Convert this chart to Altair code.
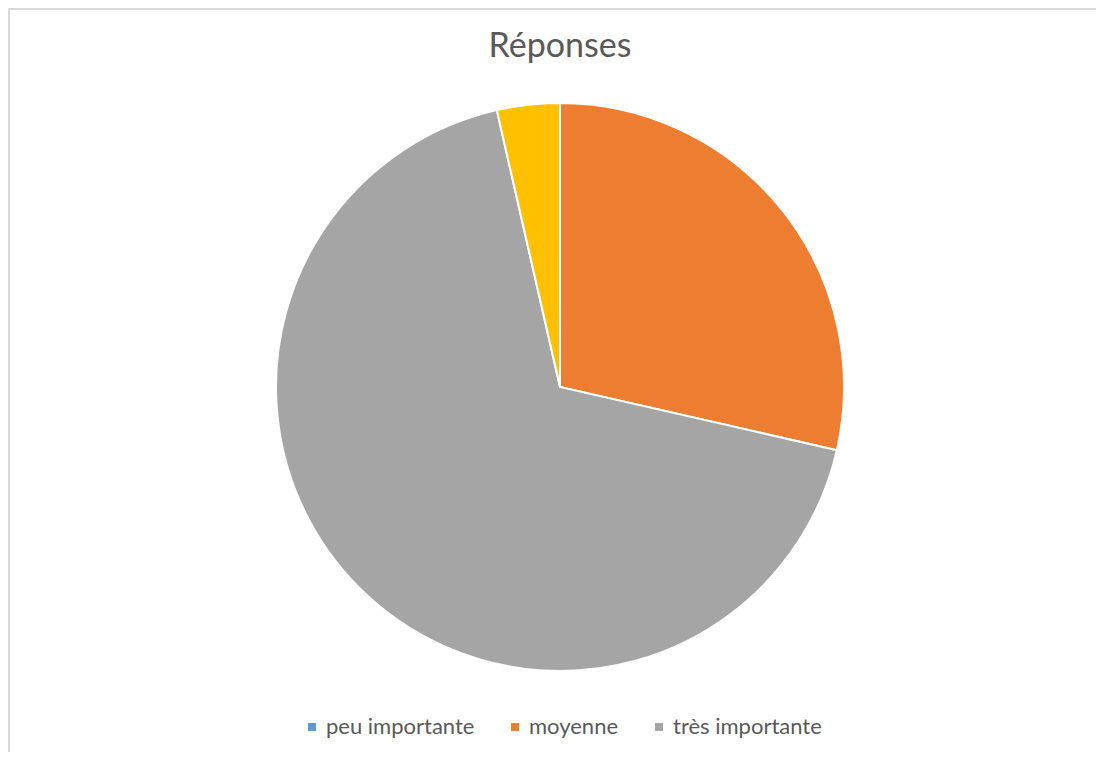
import altair as alt
import pandas as pd

# ---- data ----
categories = ["peu importante", "moyenne", "très importante", "autre"]
values = [0, 8, 19, 1]
colors = ["#5B9BD5", "#ED7D31", "#A5A5A5", "#FFC000"]
legend_items = ["peu importante", "moyenne", "très importante"]
title_text = ["Réponses"]

df = pd.DataFrame({
    "categorie": categories,
    "valeur": values,
    "ordre": list(range(len(categories))),
})

W, H = 1088, 744
FONT = "Lato"
TXT = "#595959"

one = pd.DataFrame({"k": [0]})

border_top = alt.Chart(one).mark_rule(color="#D9D9D9", strokeWidth=2).encode(
    x=alt.value(0), x2=alt.value(W), y=alt.value(1)
)
border_left = alt.Chart(one).mark_rule(color="#D9D9D9", strokeWidth=2).encode(
    x=alt.value(1), y=alt.value(0), y2=alt.value(H)
)

pie = alt.Chart(df).mark_arc(radius=284, stroke="white", strokeWidth=2).encode(
    theta=alt.Theta("valeur:Q", stack=True),
    order=alt.Order("ordre:Q", sort="ascending"),
    color=alt.Color(
        "categorie:N",
        scale=alt.Scale(domain=categories, range=colors),
        legend=alt.Legend(
            values=legend_items,
            orient="none",
            direction="horizontal",
            legendX=293,
            legendY=708,
            title=None,
            symbolType="square",
            symbolSize=64,
            symbolStrokeWidth=0,
            labelFont=FONT,
            labelFontSize=22,
            labelColor=TXT,
            labelOffset=3,
            columnPadding=29,
            padding=0,
        ),
    ),
    x=alt.value(552),
    y=alt.value(379),
)

title = alt.Chart(pd.DataFrame({"t": title_text})).mark_text(
    font=FONT, fontSize=34, color=TXT, baseline="alphabetic", align="center"
).encode(text="t:N", x=alt.value(552), y=alt.value(49))

chart = alt.layer(border_top, border_left, pie, title).properties(
    width=W, height=H, autosize="none", padding=0, background="white"
).configure_view(stroke=None)

chart.save("out.html", embed_options={"renderer": "svg", "actions": False})
